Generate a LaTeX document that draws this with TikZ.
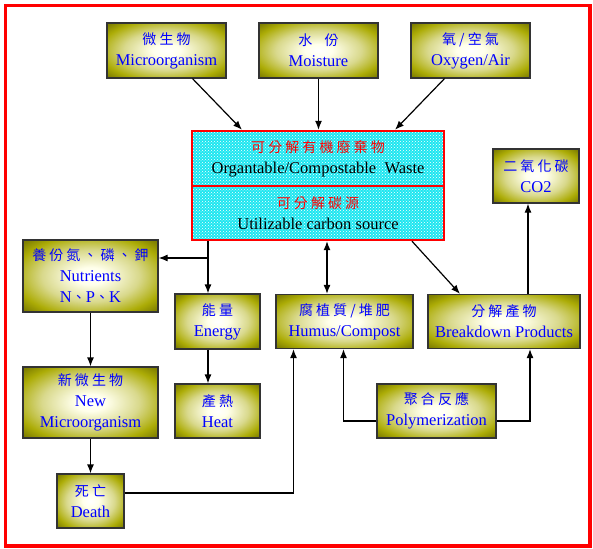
\documentclass[tikz,border=0pt]{standalone}
\usepackage{fontspec}
\setmainfont{Liberation Serif}
\newfontfamily\cjk[LetterSpace=22]{Noto Sans CJK TC}
\usetikzlibrary{arrows.meta,patterns}
\definecolor{wastecyan}{RGB}{30,230,240}
\colorlet{glowA}{yellow!8!white}
\colorlet{glowB}{olive!30!white}
\colorlet{glowC}{olive!65!white}
\pgfdeclareradialshading{oliveglow}{\pgfpointorigin}{color(0bp)=(white); color(6bp)=(glowA); color(18bp)=(glowB); color(28bp)=(glowC); color(34bp)=(olive); color(50bp)=(olive)}
\newcommand{\zh}[1]{{\cjk\fontsize{14}{21}\selectfont #1}}
\begin{document}
\begin{tikzpicture}[x=1pt,y=-1pt,>={Latex[length=9pt,width=7pt]},
    conn/.style={->,line width=1.2pt},
    olivebox/.style={draw=black!80,line width=1.2pt,shade,shading=oliveglow,text=blue,
      align=center,inner sep=0pt,font=\fontsize{16.5}{21}\selectfont},
    wastebox/.style={draw=red,line width=2.4pt,preaction={fill=wastecyan},
      pattern=crosshatch dots,pattern color=white,align=center,inner sep=0pt,
      font=\fontsize{16.5}{21}\selectfont}]
  \useasboundingbox (0,0) rectangle (593,548);
  \draw[red,line width=3.5pt] (5.5,5.5) rectangle (590,546);
  \node[olivebox,minimum width=119pt,minimum height=55pt] (micro) at (166.5,50.5) {\zh{微生物}\\Microorganism};
  \node[olivebox,minimum width=119pt,minimum height=55pt] (moist) at (318.5,50.5) {\zh{水\ \ 份}\\Moisture};
  \node[olivebox,minimum width=119pt,minimum height=55pt] (oxy) at (470.5,50.5) {\zh{氧/空氣}\\Oxygen/Air};
  \node[wastebox,minimum width=252pt,minimum height=55pt] (waste) at (318,158.5) {\textcolor{red}{\zh{可分解有機廢棄物}}\\Organtable/Compostable\ \ Waste};
  \node[wastebox,minimum width=252pt,minimum height=54pt] (carbon) at (318,213) {\textcolor{red}{\zh{可分解碳源}}\\Utilizable carbon source};
  \node[olivebox,minimum width=86pt,minimum height=54pt] (co2) at (536,176) {\zh{二氧化碳}\\CO2};
  \node[olivebox,minimum width=135pt,minimum height=72pt] (nutr) at (90.5,276) {\zh{養份氮、磷、鉀}\\Nutrients\\N\zh{、}P\zh{、}K};
  \node[olivebox,minimum width=85pt,minimum height=55pt] (energy) at (217.5,321.5) {\zh{能量}\\Energy};
  \node[olivebox,minimum width=137pt,minimum height=54pt] (humus) at (344.5,321.5) {\zh{腐植質/堆肥}\\Humus/Compost};
  \node[olivebox,minimum width=152pt,minimum height=54pt] (brk) at (504,321.5) {\zh{分解產物}\\Breakdown Products};
  \node[olivebox,minimum width=135pt,minimum height=71pt] (newm) at (90.5,402.5) {\zh{新微生物}\\New\\Microorganism};
  \node[olivebox,minimum width=85pt,minimum height=54pt] (heat) at (217.5,411) {\zh{產熱}\\Heat};
  \node[olivebox,minimum width=119pt,minimum height=54pt] (poly) at (436.5,411) {\zh{聚合反應}\\Polymerization};
  \node[olivebox,minimum width=67pt,minimum height=54pt] (death) at (90.5,501) {\zh{死亡}\\Death};
  \draw[conn] ([xshift=26]micro.south) -- ([xshift=-76]waste.north);
  \draw[conn] (moist.south) -- (moist.south |- waste.north);
  \draw[conn] ([xshift=-26]oxy.south) -- ([xshift=77]waste.north);
  \coordinate (split) at (208,258);
  \draw[line width=1.2pt] (carbon.south -| split) -- (split);
  \draw[conn] (split) -- (split -| nutr.east);
  \draw[conn] (split) -- (split |- energy.north);
  \draw[conn] (split |- energy.south) -- (split |- heat.north);
  \coordinate (humx) at (327,0);
  \draw[conn,<->] (carbon.south -| humx) -- (humus.north -| humx);
  \draw[conn] ([xshift=94]carbon.south) -- ([xshift=-44]brk.north);
  \draw[conn] ([xshift=24]brk.north) -- ([xshift=24]brk.north |- co2.south);
  \draw[conn] (nutr.south) -- (newm.north);
  \draw[conn] (newm.south) -- (death.north);
  \draw[conn] ([yshift=8]death.east) -| ([xshift=-51]humus.south);
  \draw[conn] ([yshift=-10]poly.west) -| ([xshift=-1]humus.south);
  \draw[conn] ([yshift=-10]poly.east) -| ([xshift=26]brk.south);
\end{tikzpicture}
\end{document}
